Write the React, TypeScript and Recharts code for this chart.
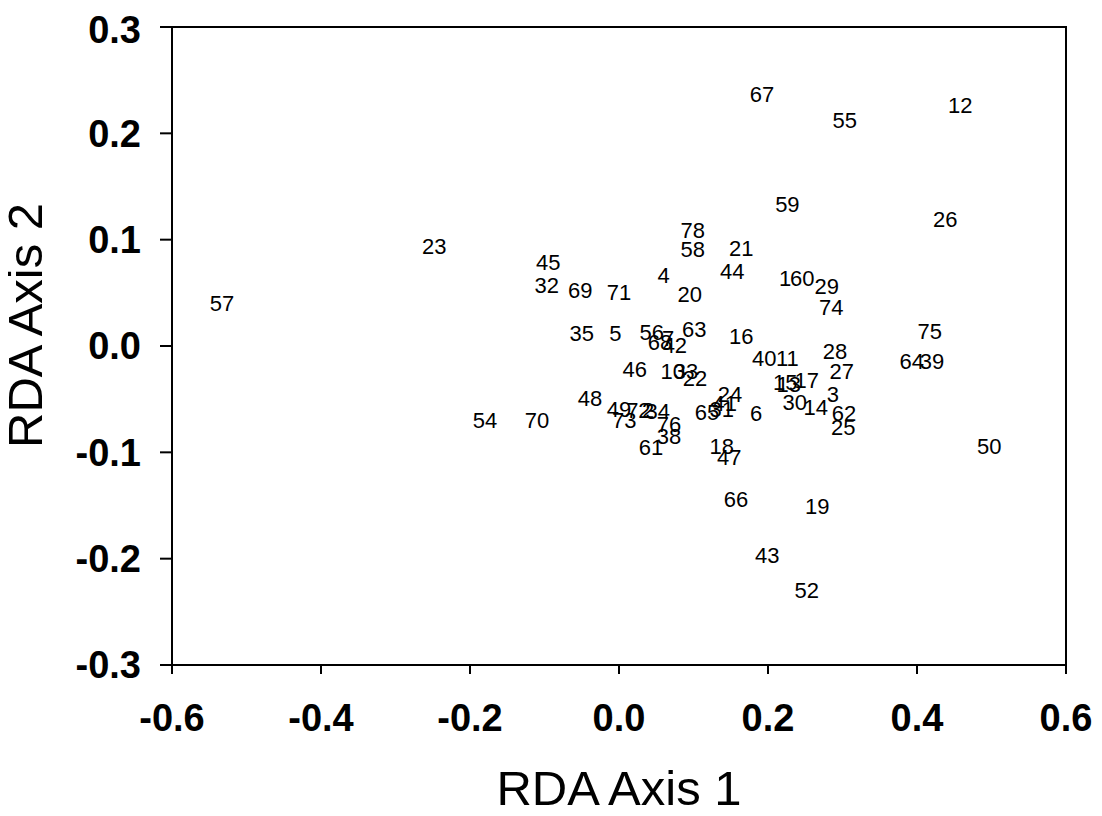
import { ScatterChart, Scatter, XAxis, YAxis, ReferenceArea } from "recharts";

// site labels and their RDA scores
const sites = [
  "57", "23", "45", "32", "69", "71", "4", "78", "58", "20",
  "21", "44", "67", "55", "12", "59", "26", "1", "60", "29",
  "74", "75", "64", "39", "28", "27", "3", "62", "25", "14",
  "30", "15", "13", "17", "40", "11", "16", "6", "24", "41",
  "65", "31", "18", "47", "66", "19", "43", "52", "50", "35",
  "5", "56", "63", "68", "42", "7", "46", "10", "33", "22",
  "48", "49", "73", "72", "2", "34", "76", "38", "61", "54",
  "70",
];

const axis1 = [
  -0.533, -0.248, -0.095, -0.097, -0.052, 0.0, 0.06, 0.099, 0.099, 0.095,
  0.164, 0.152, 0.192, 0.303, 0.458, 0.226, 0.438, 0.223, 0.246, 0.279,
  0.285, 0.417, 0.393, 0.42, 0.29, 0.299, 0.287, 0.302, 0.301, 0.264,
  0.236, 0.223, 0.228, 0.252, 0.195, 0.226, 0.164, 0.184, 0.149, 0.142,
  0.118, 0.138, 0.138, 0.148, 0.157, 0.266, 0.199, 0.252, 0.497, -0.05,
  -0.005, 0.044, 0.101, 0.055, 0.075, 0.066, 0.021, 0.072, 0.09, 0.102,
  -0.039, 0.0, 0.007, 0.026, 0.039, 0.052, 0.067, 0.067, 0.043, -0.18,
  -0.11,
];

const axis2 = [
  0.04, 0.094, 0.079, 0.057, 0.053, 0.051, 0.067, 0.109, 0.091, 0.049,
  0.092, 0.07, 0.237, 0.212, 0.227, 0.133, 0.119, 0.064, 0.064, 0.056,
  0.037, 0.014, -0.014, -0.014, -0.005, -0.024, -0.045, -0.063, -0.076, -0.057,
  -0.053, -0.034, -0.036, -0.032, -0.011, -0.011, 0.009, -0.063, -0.045, -0.054,
  -0.062, -0.059, -0.094, -0.104, -0.144, -0.151, -0.197, -0.23, -0.094, 0.012,
  0.012, 0.013, 0.016, 0.004, 0.001, 0.007, -0.022, -0.024, -0.024, -0.03,
  -0.049, -0.059, -0.07, -0.06, -0.06, -0.061, -0.073, -0.085, -0.095, -0.07,
  -0.07,
];

const xTicks = [-0.6, -0.4, -0.2, 0, 0.2, 0.4, 0.6];
const yTicks = [-0.3, -0.2, -0.1, 0, 0.1, 0.2, 0.3];

const data = sites.map((s, i) => ({ label: s, x: axis1[i], y: axis2[i] }));

const font = "'Liberation Sans', Arial, sans-serif";

const SiteLabel = (props: any) => {
  const { cx, cy, payload } = props;
  return (
    <text x={cx} y={cy} dy="0.36em" textAnchor="middle" fontSize={22} fontFamily={font} fill="#000">
      {payload.label}
    </text>
  );
};

const App = () => {
  return (
    <ScatterChart
      width={1086}
      height={800}
      margin={{ top: 19, right: 28, bottom: 0, left: 0 }}
      style={{ fontFamily: font, overflow: "visible" }}
    >
      <XAxis
        type="number"
        dataKey="x"
        domain={[-0.6, 0.6]}
        ticks={xTicks}
        allowDataOverflow
        tickFormatter={(v: number) => v.toFixed(1)}
        height={143}
        stroke="#000"
        strokeWidth={2}
        tickSize={9}
        tickMargin={30}
        tick={{ fill: "#000", fontSize: 38, fontWeight: "bold", fontFamily: font }}
        label={{ value: "RDA Axis 1", position: "insideBottom", offset: 3, fontSize: 49, fill: "#000", fontFamily: font }}
      />
      <YAxis
        type="number"
        dataKey="y"
        domain={[-0.3, 0.3]}
        ticks={yTicks}
        allowDataOverflow
        tickFormatter={(v: number) => v.toFixed(1)}
        width={164}
        stroke="#000"
        strokeWidth={2}
        tickSize={12}
        tickMargin={19}
        tick={{ fill: "#000", fontSize: 38, fontWeight: "bold", fontFamily: font }}
        label={{ value: "RDA Axis 2", angle: -90, position: "insideLeft", offset: 17, dy: 102, fontSize: 49, fill: "#000", fontFamily: font }}
      />
      <ReferenceArea x1={-0.6} x2={0.6} y1={-0.3} y2={0.3} fill="none" stroke="#000" strokeWidth={2} ifOverflow="visible" />
      <Scatter data={data} shape={SiteLabel} isAnimationActive={false} />
    </ScatterChart>
  );
};

export default App;
